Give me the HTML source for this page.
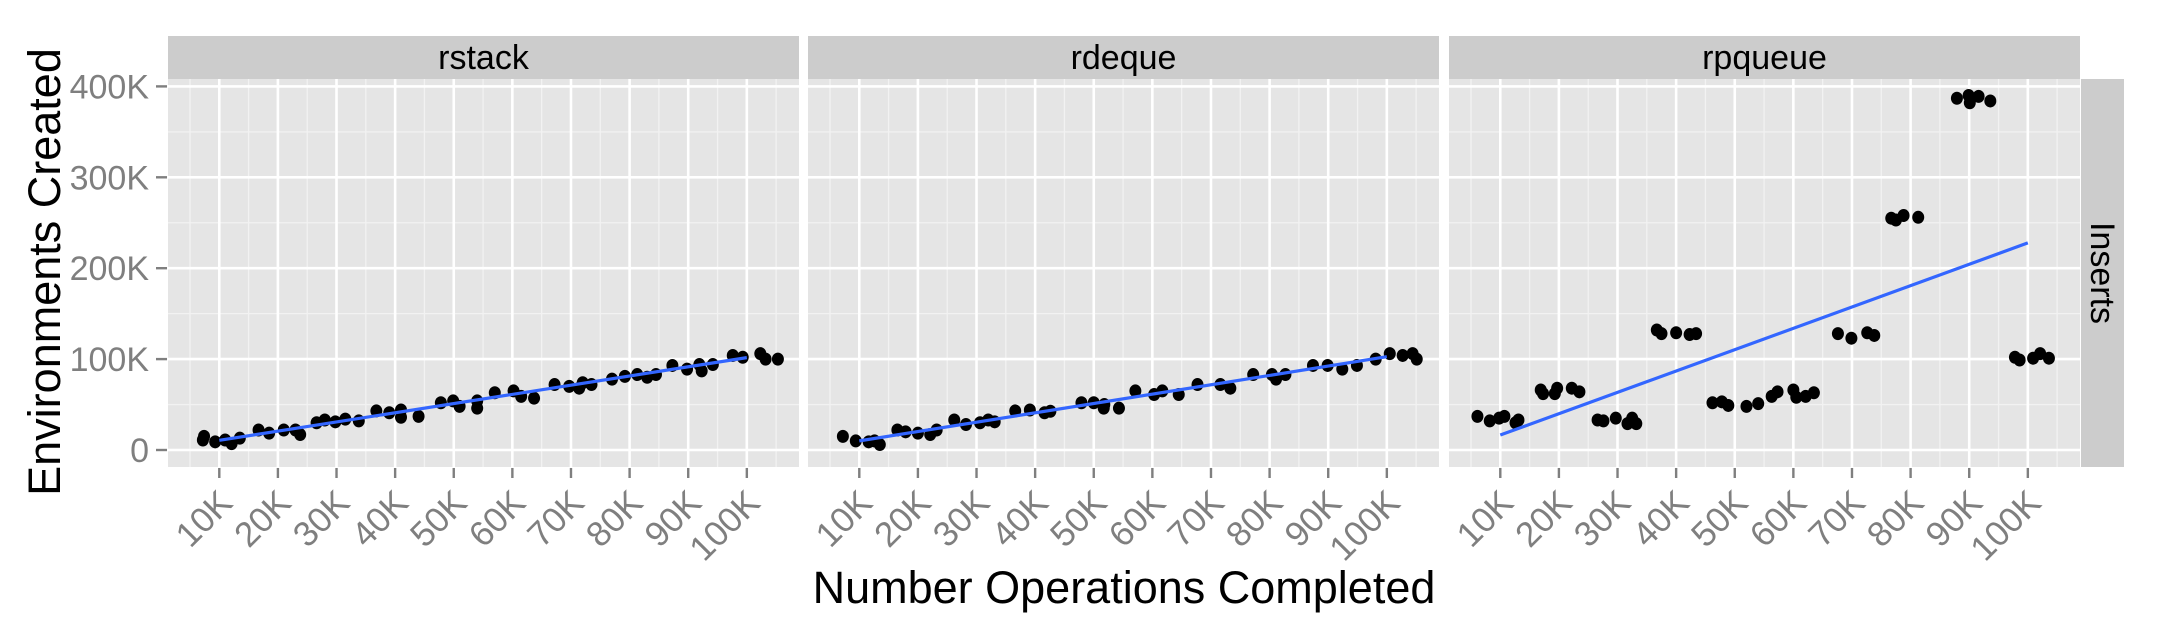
<!DOCTYPE html>
<html><head><meta charset="utf-8"><style>
html,body{margin:0;padding:0;background:#fff;}
svg{display:block;font-family:"Liberation Sans",Arial,sans-serif;}
</style></head><body>
<svg id="chart" width="2160" height="630" viewBox="0 0 2160 630" xmlns="http://www.w3.org/2000/svg">
<text transform="translate(60,272) rotate(-90)" text-anchor="middle" font-size="45" fill="#000">Environments Created</text>
<text x="1124" y="603" text-anchor="middle" font-size="45" fill="#000">Number Operations Completed</text>
<rect x="2081" y="79" width="43" height="388" fill="#cccccc"/>
<text transform="translate(2091,273) rotate(90)" text-anchor="middle" font-size="34" fill="#000">Inserts</text>
</svg>
<script>
const panelNames = ["rstack", "rdeque", "rpqueue"];
const xTicks = [10,20,30,40,50,60,70,80,90,100];
const xTickLabels = ["10K","20K","30K","40K","50K","60K","70K","80K","90K","100K"];
const yTicks = [0,100,200,300,400];
const yTickLabels = ["0","100K","200K","300K","400K"];
// rstack
const rstackX = [7.2,7.4,9.3,11,12.1,13.5,16.7,18.5,21,23,23.8,26.6,28,29.8,31.5,33.8,36.8,39,41,41,44,47.8,49.9,51,54,54,57,60.2,61.5,63.7,67.2,69.7,71.4,72,73.5,77,79.2,81.3,83,84.5,87.3,89.8,91.9,92.3,94.2,97.6,99.3,102.3,103.2,105.3];
const rstackY = [11,15,9,11,7,13,22,18.5,22,22,17,30,33,31,34,32,43,41,44,36,37,52,54,48,54,46,63,65,59,57,72,70,68,74,72,78,81,83,80,83,93,89,94,87,94,104,102,106,100,100];
// rdeque
const rdequeX = [7.2,9.4,11.6,13.5,12.6,16.5,17.9,20,22.1,23.2,26.2,28.2,30.6,32,33.1,36.6,39.1,41.6,42.6,47.9,50,51.8,51.7,54.3,57.1,60.3,61.7,64.5,67.7,71.6,73.3,77.2,80.4,81.1,82.7,87.4,89.9,92.4,94.9,98.1,100.5,102.7,104.4,105.1];
const rdequeY = [15,10,9,6,10,22,20,18.5,17,22,33,28,30,33,31,43,44,41,42.6,52,52,50,46,46,65,61,65,61,72,72,68,83,83,78,83,93,93,89,93,100,106,104,106,100];
// rpqueue
const rpqueueX = [6.1,8.2,9.8,10.7,12.6,13.1,16.9,17.3,19.3,19.7,22.2,23.5,26.6,27.6,29.7,31.7,32.5,33.2,36.7,37.5,40,42.3,43.4,46.2,47.8,48.9,52,54,56.3,57.3,60,60.5,62.1,63.5,67.6,69.9,72.6,73.8,76.7,77.5,78.8,81.3,87.9,89.9,90.1,91.6,93.6,97.8,98.6,100.9,102.1,103.6];
const rpqueueY = [37,32,35,37,30,33,66,62,62,68,68,64,33,32,35,29,35,29,132,128,129,127,128,52,53,49,48,51,59,64,66,58,59,63,128,123,129,126,255,253,258,256,387,390,382,389,384,102,99,101,106,101];

const seriesX = [rstackX, rdequeX, rpqueueX];
const seriesY = [rstackY, rdequeY, rpqueueY];

const NS = "http://www.w3.org/2000/svg";
const svg = document.getElementById("chart");
const panelLefts = [168, 808, 1449];
const PW = 631, PT = 79, PB = 467, XMIN = 1.25, XMAX = 108.9;
function xScale(p, v){ return panelLefts[p] + (v - XMIN) / (XMAX - XMIN) * PW; }
function yScale(v){ return 450 - v * 0.909; }
function mk(tag, attrs, parent){ const e = document.createElementNS(NS, tag); for (const k in attrs) e.setAttribute(k, attrs[k]); (parent||svg).appendChild(e); return e; }

for (let p = 0; p < 3; p++) {
  const L = panelLefts[p];
  const g = mk("g", {});
  
  
  const bg = mk("rect", {x:L, y:PT, width:PW, height:PB-PT, fill:"#e5e5e5"}, g);
  
  
  for (let v = 5; v < XMAX; v += 10) {
    const l = mk("line", {x1:xScale(p,v), x2:xScale(p,v), y1:PT, y2:PB, stroke:"#f2f2f2", "stroke-width":1.3}, g);
    
    
  }
  for (const v of [50,150,250,350]) {
    const l = mk("line", {x1:L, x2:L+PW, y1:yScale(v), y2:yScale(v), stroke:"#f2f2f2", "stroke-width":1.3}, g);
    
    
  }
  for (const v of yTicks) {
    const l = mk("line", {x1:L, x2:L+PW, y1:yScale(v), y2:yScale(v), stroke:"#ffffff", "stroke-width":2.6}, g);
    
    
  }
  xTicks.forEach((v, i) => {
    const x = xScale(p, v);
    const l = mk("line", {x1:x, x2:x, y1:PT, y2:PB, stroke:"#ffffff", "stroke-width":2.6}, g);
    
    
    const t = mk("line", {x1:x, x2:x, y1:PB+1, y2:PB+11, stroke:"#7f7f7f", "stroke-width":2.4}, g);
    
    
    const lab = mk("text", {transform:"translate(" + (x+15) + ",505) rotate(-45)", "text-anchor":"end", "font-size":35, fill:"#7f7f7f"}, g);
    
    
    lab.textContent = xTickLabels[i];
  });
  const st = mk("rect", {x:L, y:36, width:PW, height:43, fill:"#cccccc"}, g);
  
  
  const stt = mk("text", {x:L+PW/2, y:69, "text-anchor":"middle", "font-size":34, fill:"#000"}, g);
  
  
  stt.textContent = panelNames[p];
  const xs = seriesX[p], ys = seriesY[p];
  for (let i = 0; i < xs.length; i++) {
    const c = mk("ellipse", {cx:xScale(p, xs[i]), cy:yScale(ys[i]), rx:6, ry:6.5, fill:"#000"}, g);
    
    
  }
  const gx = xs.map(v => Math.min(100, Math.max(10, Math.round(v/10)*10)));
  const n = gx.length;
  const mx = gx.reduce((a,b)=>a+b,0)/n, my = ys.reduce((a,b)=>a+b,0)/n;
  let sxy = 0, sxx = 0;
  for (let i = 0; i < n; i++) { sxy += (gx[i]-mx)*(ys[i]-my); sxx += (gx[i]-mx)*(gx[i]-mx); }
  const b = sxy/sxx, a = my - b*mx;
  const fl = mk("line", {x1:xScale(p,10), y1:yScale(a+b*10), x2:xScale(p,100), y2:yScale(a+b*100), stroke:"#3366ff", "stroke-width":3.2}, g);
  
  
}
yTicks.forEach((v, i) => {
  const y = yScale(v);
  const t = mk("line", {x1:156, x2:167, y1:y, y2:y, stroke:"#7f7f7f", "stroke-width":2.4});
  
  
  const lab = mk("text", {x:149, y:y+12, "text-anchor":"end", "font-size":34, fill:"#7f7f7f"});
  
  
  lab.textContent = yTickLabels[i];
});
</script>
</body></html>
